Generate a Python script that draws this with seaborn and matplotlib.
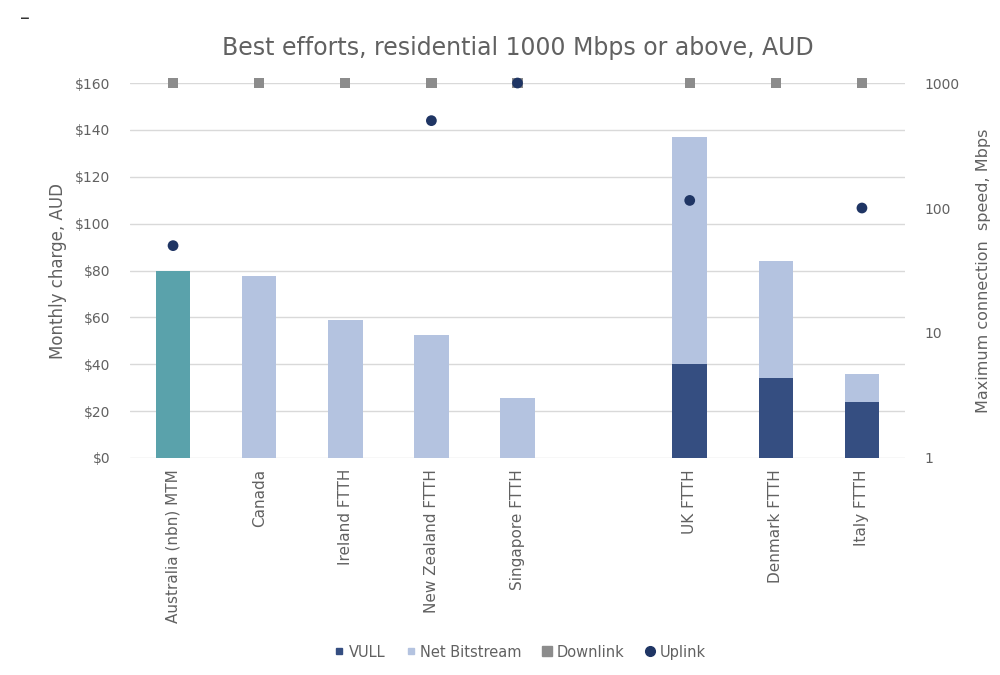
import pandas as pd
import seaborn as sns
import matplotlib.pyplot as plt
from matplotlib.lines import Line2D
from matplotlib.ticker import FuncFormatter, FixedLocator, NullLocator

# Categories (the blank one is the gap between the two groups)
categories = ["Australia (nbn) MTM", "Canada", "Ireland FTTH", "New Zealand FTTH",
              "Singapore FTTH", " ", "UK FTTH", "Denmark FTTH", "Italy FTTH"]
countries = ["Australia (nbn) MTM", "Canada", "Ireland FTTH", "New Zealand FTTH",
             "Singapore FTTH", "UK FTTH", "Denmark FTTH", "Italy FTTH"]

# Monthly charge, AUD
vull = [0, 0, 0, 0, 0, 40, 34, 24]
net_bitstream = [80, 77.5, 59, 52.5, 25.7, 97, 50, 12]

# Maximum connection speed, Mbps (None = not shown)
downlink = [1000, 1000, 1000, 1000, 1000, 1000, 1000, 1000]
uplink = [50, None, None, 500, 1000, 115, None, 100]

teal = "#5aa2ab"
light = "#b4c3e0"
navy = "#354e81"
grey = "#8c8c8c"
dot = "#1f3564"
text_col = "#616161"

df = pd.DataFrame({"country": countries, "vull": vull, "bitstream": net_bitstream,
                   "down": downlink, "up": uplink})
df["total"] = df["vull"] + df["bitstream"]
df["pos"] = [categories.index(c) for c in df["country"]]

sns.set_style("white")
plt.rcParams["font.family"] = ["DejaVu Sans"]

fig = plt.figure(figsize=(10, 6.75), dpi=100)
ax = fig.add_axes([0.13, 0.3215, 0.775, 0.5555])

palette = {c: (teal if c.startswith("Australia") else light) for c in countries}
sns.barplot(data=df, x="country", y="total", order=categories, hue="country",
            palette=palette, width=0.4, saturation=1, errorbar=None, legend=False,
            linewidth=0, ax=ax)
sns.barplot(data=df[df["vull"] > 0], x="country", y="vull", order=categories,
            color=navy, width=0.4, saturation=1, errorbar=None, linewidth=0, ax=ax)

ax.set_ylim(0, 160)
ax.set_xlim(-0.5, len(categories) - 0.5)
ax.yaxis.set_major_locator(FixedLocator(range(0, 161, 20)))
ax.yaxis.set_major_formatter(FuncFormatter(lambda v, p: f"${v:.0f}"))
ax.grid(axis="y", color="#d9d9d9", linewidth=1)
ax.grid(axis="x", visible=False)
ax.set_axisbelow(True)
for s in ax.spines.values():
    s.set_visible(False)
ax.tick_params(axis="both", length=0, colors=text_col, labelsize=10)
ax.tick_params(axis="y", pad=14)
ax.set_xticks(range(len(categories)))
ax.set_xticklabels(categories, rotation=90, color=text_col, fontsize=11)
ax.tick_params(axis="x", pad=8)
ax.set_xlabel("")
ax.set_ylabel("Monthly charge, AUD", color=text_col, fontsize=12, labelpad=6)
ax.set_title("Best efforts, residential 1000 Mbps or above, AUD",
             color=text_col, fontsize=17, pad=20)

ax2 = ax.twinx()
ax2.set_yscale("log")
sns.scatterplot(x=df["pos"], y=df["down"], marker="s", color=grey, s=55,
                edgecolor="none", ax=ax2, zorder=3, clip_on=False)
up = df.dropna(subset=["up"])
sns.scatterplot(x=up["pos"], y=up["up"], marker="o", color=dot, s=60,
                edgecolor="none", ax=ax2, zorder=4, clip_on=False)
ax2.set_ylim(1, 1000)
ax2.set_xlim(-0.5, len(categories) - 0.5)
ax2.yaxis.set_major_locator(FixedLocator([1, 10, 100, 1000]))
ax2.yaxis.set_minor_locator(NullLocator())
ax2.yaxis.set_major_formatter(FuncFormatter(lambda v, p: f"{v:.0f}"))
ax2.grid(False)
for s in ax2.spines.values():
    s.set_visible(False)
ax2.tick_params(axis="y", length=0, colors=text_col, labelsize=10, pad=14)
ax2.set_xlabel("")
ax2.set_ylabel("Maximum connection  speed, Mbps", color=text_col, fontsize=11.5, labelpad=12)

handles = [
    Line2D([], [], marker="s", linestyle="", color=navy, markersize=5),
    Line2D([], [], marker="s", linestyle="", color=light, markersize=5),
    Line2D([], [], marker="s", linestyle="", color=grey, markersize=7),
    Line2D([], [], marker="o", linestyle="", color=dot, markersize=7),
]
fig.legend(handles, ["VULL", "Net Bitstream", "Downlink", "Uplink"], loc="center",
           bbox_to_anchor=(0.52, 0.034), ncol=4, frameon=False, fontsize=10.5,
           handlelength=0.7, handletextpad=0.3, columnspacing=1.4, labelcolor=text_col)

fig.text(0.02, 0.965, "–", fontsize=14, color="#333333")

fig.savefig("out.png", dpi=100)
